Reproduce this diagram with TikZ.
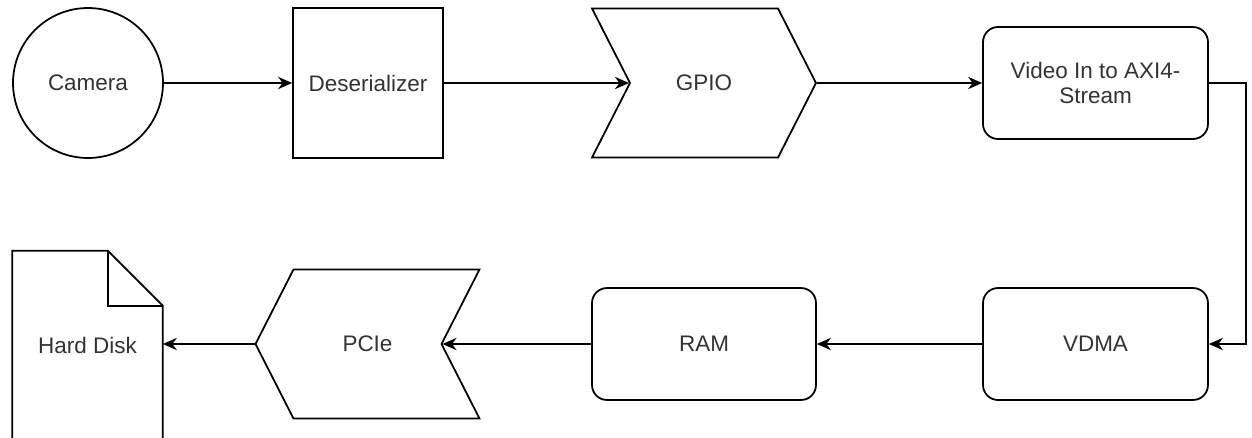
\documentclass[tikz,border=0pt]{standalone}
\usepackage{fontspec}
\setmainfont{Liberation Sans}
\usetikzlibrary{arrows.meta,shapes.symbols}

\begin{document}
\begin{tikzpicture}[x=0.02cm,y=-0.02cm,
    blk/.style={draw,line width=1pt,text=black!80,inner sep=0pt,align=center,
      font=\fontsize{12.8}{14.7}\selectfont},
    rbox/.style={blk,rounded corners=0.3cm,minimum width=4.5cm,minimum height=2.24cm},
    sig/.style={blk,signal,signal pointer angle=126,minimum width=4.48cm,minimum height=2.98cm},
    flow/.style={line width=1pt,-{Stealth[length=8pt,width=7pt]}}]
  \useasboundingbox (0,0) rectangle (1252,437);
  % top row
  \node[blk,circle,minimum size=3cm] (cam) at (88,83) {Camera};
  \node[blk,minimum size=3cm] (deser) at (368,83) {Deserializer};
  \node[sig,signal to=east,signal from=west] (gpio) at (704,83) {GPIO};
  \node[rbox] (vin) at (1095.5,83) {Video In to AXI4-\\Stream};
  % bottom row
  \node[rbox] (vdma) at (1095.5,344) {VDMA};
  \node[rbox,minimum width=4.48cm] (ram) at (704,344) {RAM};
  \node[sig,signal to=west,signal from=east] (pcie) at (367.5,344) {PCIe};
  \node[blk,draw=none,minimum width=2.98cm,minimum height=3.74cm] (disk) at (87.5,345) {Hard Disk};
  \draw[line width=1pt] (disk.south west) -- (disk.north west)
    -- ([xshift=-1.1cm]disk.north east) -- ([yshift=-1.1cm]disk.north east) -- (disk.south east);
  \draw[line width=1pt] ([xshift=-1.1cm]disk.north east) |- ([yshift=-1.1cm]disk.north east);
  % connectors
  \draw[flow] (cam) -- (deser);
  \draw[flow] (deser) -- (gpio.west);
  \draw[flow] (gpio.east) -- (vin);
  \draw[flow] (vin.east) -- ++(37,0) |- (vdma.east);
  \draw[flow] (vdma) -- (ram);
  \draw[flow] (ram) -- (pcie.east);
  \draw[flow] (pcie.west) -- (pcie.west -| disk.east);
\end{tikzpicture}
\end{document}
